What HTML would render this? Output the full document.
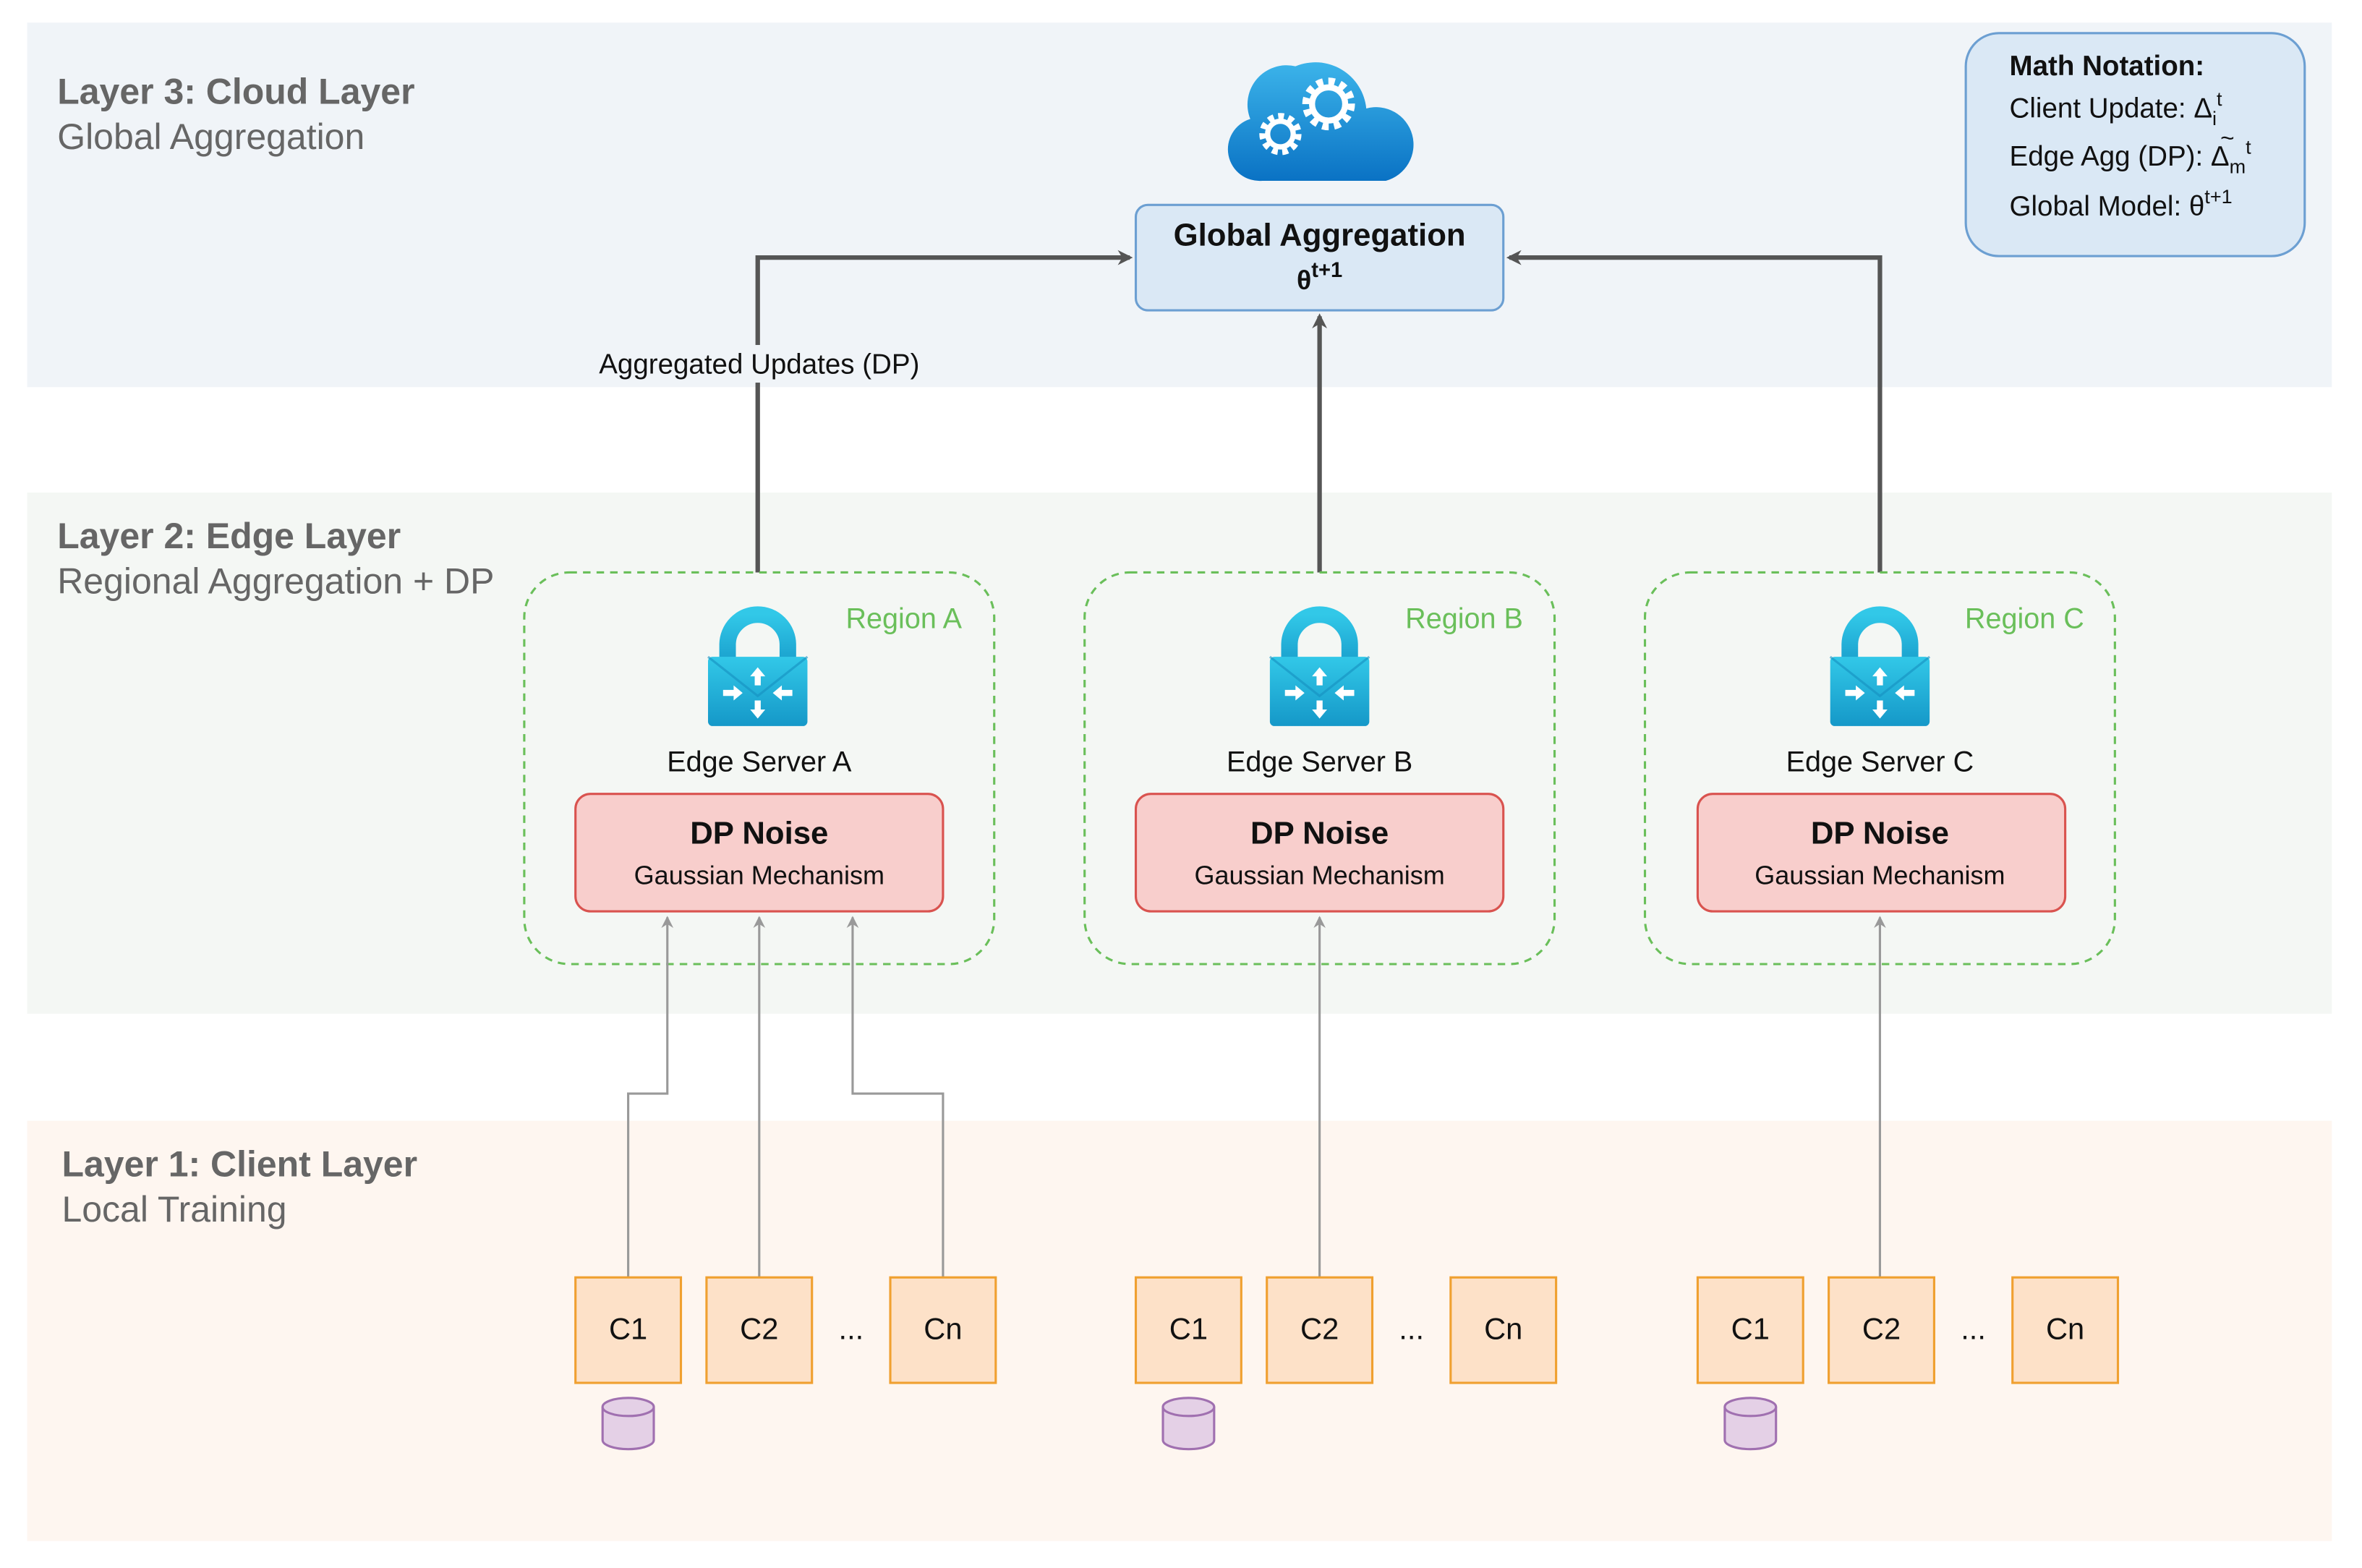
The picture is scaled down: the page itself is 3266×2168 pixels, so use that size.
<!DOCTYPE html>
<html><head><meta charset="utf-8"><style>
html,body{margin:0;padding:0;background:#fff;}
svg{display:block;}
text{font-family:"Liberation Sans",Arial,sans-serif;}
</style></head><body>
<svg width="3266" height="2168" viewBox="0 0 1568 1040.9" xmlns="http://www.w3.org/2000/svg">
<defs>
<marker id="ah" markerWidth="10" markerHeight="10" refX="8" refY="5" orient="auto" markerUnits="userSpaceOnUse" viewBox="0 0 10 10"><path d="M0,0 L10,5 L0,10 L3,5 Z" fill="#555"/></marker>
<marker id="ag" markerWidth="8" markerHeight="8" refX="7" refY="4" orient="auto" markerUnits="userSpaceOnUse" viewBox="0 0 8 8"><path d="M0,0 L8,4 L0,8 L2.5,4 Z" fill="#999"/></marker>
<linearGradient id="cg" x1="0" y1="0" x2="0" y2="1"><stop offset="0" stop-color="#3cb4ea"/><stop offset="1" stop-color="#0a72c4"/></linearGradient>
<linearGradient id="lg" x1="0" y1="0" x2="0" y2="1"><stop offset="0" stop-color="#32c8e8"/><stop offset="1" stop-color="#1598c8"/></linearGradient>
<g id="lock">
<path d="M-20,12 V-6 A20,20 0 0 1 20,-6 V12" fill="none" stroke="url(#lg)" stroke-width="11"/>
<rect x="-33" y="2" width="66" height="46" rx="3" fill="url(#lg)"/>
<path d="M-33,2 L0,28 L33,2" fill="none" stroke="#1590c0" stroke-width="1.5" opacity="0.6"/>
<g fill="#fff"><path d="M0,9 l-5,6 h3 v6 h4 v-6 h3z"/><path d="M0,43 l-5,-6 h3 v-6 h4 v6 h3z"/><path d="M-10,26 l-6,-5 v3 h-7 v4 h7 v3z"/><path d="M10,26 l6,-5 v3 h7 v4 h-7 v3z"/></g>
</g>
<g id="db">
<path d="M-17,6 V28 A17,6 0 0 0 17,28 V6" fill="#e4d0e6" stroke="#a070b0" stroke-width="1.5"/>
<ellipse cx="0" cy="6" rx="17" ry="6" fill="#e4d0e6" stroke="#a070b0" stroke-width="1.5"/>
</g>
</defs>
<rect x="18" y="15" width="1530" height="242" fill="#f0f4f8"/>
<rect x="18" y="327" width="1530" height="346" fill="#f4f7f4"/>
<rect x="18" y="744" width="1530" height="279" fill="#fef6f0"/>
<g fill="#666" font-size="24">
<text x="38" y="69" font-weight="bold">Layer 3: Cloud Layer</text>
<text x="38" y="99">Global Aggregation</text>
<text x="38" y="364" font-weight="bold">Layer 2: Edge Layer</text>
<text x="38" y="394">Regional Aggregation + DP</text>
<text x="41" y="781" font-weight="bold">Layer 1: Client Layer</text>
<text x="41" y="811">Local Training</text>
</g>
<!-- cloud -->
<g>
<path d="M838,120 A21,21 0 0 1 830,79 A26,26 0 0 1 860,44 A34,34 0 0 1 907,72 A24,24 0 0 1 920,120 Z" fill="url(#cg)"/>
<circle cx="882" cy="69" r="14" fill="none" stroke="#fff" stroke-width="7" stroke-dasharray="4 3.3"/>
<circle cx="882" cy="69" r="11" fill="none" stroke="#fff" stroke-width="4"/>
<circle cx="850" cy="89" r="11" fill="none" stroke="#fff" stroke-width="6" stroke-dasharray="3.5 2.8"/>
<circle cx="850" cy="89" r="8.5" fill="none" stroke="#fff" stroke-width="3.5"/>
</g>
<rect x="754" y="136" width="244" height="70" rx="8" fill="#dae8f5" stroke="#6c9fd2" stroke-width="1.5"/>
<text x="876" y="163" font-size="21" font-weight="bold" text-anchor="middle" fill="#111">Global Aggregation</text>
<text x="876" y="192" font-size="18" font-weight="bold" text-anchor="middle" fill="#111">θ<tspan font-size="14" dy="-8">t+1</tspan></text>
<rect x="1305" y="22" width="225" height="148" rx="22" fill="#dae8f5" stroke="#6c9fd2" stroke-width="1.5"/>
<g font-size="18.5" fill="#111">
<text x="1334" y="50" font-weight="bold">Math Notation:</text>
<text x="1334" y="78">Client Update: Δ<tspan font-size="13" dy="5">i</tspan><tspan font-size="13" dy="-13">t</tspan></text>
<text x="1334" y="110">Edge Agg (DP): Δ<tspan font-size="13" dy="5">m</tspan><tspan font-size="13" dy="-13">t</tspan></text>
<text x="1474" y="97" font-size="16">~</text>
<text x="1334" y="143">Global Model: θ<tspan font-size="13" dy="-8">t+1</tspan></text>
</g>
<!-- main arrows -->
<g fill="none" stroke="#555" stroke-width="3">
<path d="M503,380 V171 H750" marker-end="url(#ah)"/>
<path d="M876,380 V210" marker-end="url(#ah)"/>
<path d="M1248,380 V171 H1002" marker-end="url(#ah)"/>
</g>
<rect x="392" y="229" width="224" height="25" fill="#f0f4f8"/>
<text x="504" y="248" font-size="18.5" text-anchor="middle" fill="#111">Aggregated Updates (DP)</text>
<!-- regions -->
<g font-size="19">
<rect x="348" y="380" width="312" height="260" rx="30" fill="none" stroke="#6abf5a" stroke-width="1.5" stroke-dasharray="5 4"/>
<rect x="720" y="380" width="312" height="260" rx="30" fill="none" stroke="#6abf5a" stroke-width="1.5" stroke-dasharray="5 4"/>
<rect x="1092" y="380" width="312" height="260" rx="30" fill="none" stroke="#6abf5a" stroke-width="1.5" stroke-dasharray="5 4"/>
<text x="600" y="417" fill="#6abf5a" text-anchor="middle">Region A</text>
<text x="972" y="417" fill="#6abf5a" text-anchor="middle">Region B</text>
<text x="1344" y="417" fill="#6abf5a" text-anchor="middle">Region C</text>
<use href="#lock" x="503" y="434"/>
<use href="#lock" x="876" y="434"/>
<use href="#lock" x="1248" y="434"/>
<text x="504" y="512" fill="#111" text-anchor="middle">Edge Server A</text>
<text x="876" y="512" fill="#111" text-anchor="middle">Edge Server B</text>
<text x="1248" y="512" fill="#111" text-anchor="middle">Edge Server C</text>
</g>
<g>
<rect x="382" y="527" width="244" height="78" rx="10" fill="#f8cecc" stroke="#d9534f" stroke-width="1.5"/>
<rect x="754" y="527" width="244" height="78" rx="10" fill="#f8cecc" stroke="#d9534f" stroke-width="1.5"/>
<rect x="1127" y="527" width="244" height="78" rx="10" fill="#f8cecc" stroke="#d9534f" stroke-width="1.5"/>
<g font-size="21" font-weight="bold" text-anchor="middle" fill="#111">
<text x="504" y="560">DP Noise</text><text x="876" y="560">DP Noise</text><text x="1248" y="560">DP Noise</text></g>
<g font-size="17.3" text-anchor="middle" fill="#111">
<text x="504" y="587">Gaussian Mechanism</text><text x="876" y="587">Gaussian Mechanism</text><text x="1248" y="587">Gaussian Mechanism</text></g>
</g>
<!-- client arrows -->
<g fill="none" stroke="#999" stroke-width="1.5">
<path d="M417,848 V726 H443 V609" marker-end="url(#ag)"/>
<path d="M504,848 V609" marker-end="url(#ag)"/>
<path d="M626,848 V726 H566 V609" marker-end="url(#ag)"/>
<path d="M876,848 V609" marker-end="url(#ag)"/>
<path d="M1248,848 V609" marker-end="url(#ag)"/>
</g>
<!-- clients -->
<g fill="#fde1c8" stroke="#f0a030" stroke-width="1.5">
<rect x="382" y="848" width="70" height="70"/><rect x="469" y="848" width="70" height="70"/><rect x="591" y="848" width="70" height="70"/>
<rect x="754" y="848" width="70" height="70"/><rect x="841" y="848" width="70" height="70"/><rect x="963" y="848" width="70" height="70"/>
<rect x="1127" y="848" width="70" height="70"/><rect x="1214" y="848" width="70" height="70"/><rect x="1336" y="848" width="70" height="70"/>
</g>
<g font-size="20" text-anchor="middle" fill="#111">
<text x="417" y="889">C1</text><text x="504" y="889">C2</text><text x="565" y="889">...</text><text x="626" y="889">Cn</text>
<text x="789" y="889">C1</text><text x="876" y="889">C2</text><text x="937" y="889">...</text><text x="998" y="889">Cn</text>
<text x="1162" y="889">C1</text><text x="1249" y="889">C2</text><text x="1310" y="889">...</text><text x="1371" y="889">Cn</text>
</g>
<use href="#db" x="417" y="928"/>
<use href="#db" x="789" y="928"/>
<use href="#db" x="1162" y="928"/>
</svg>
</body></html>
